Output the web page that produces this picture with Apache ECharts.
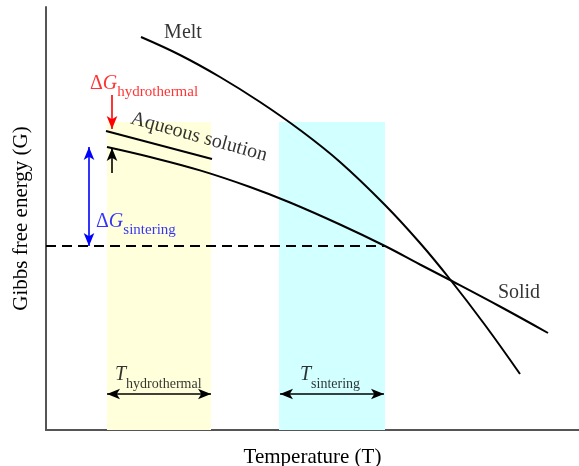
<!DOCTYPE html>
<html><head><meta charset="utf-8">
<script src="https://cdn.jsdelivr.net/npm/echarts@6/dist/echarts.min.js"></script>
<style>html,body{margin:0;padding:0;background:#fff}#c{width:579px;height:466px}</style>
</head><body><div id="c"></div>
<script>
// Schematic units (T to the right, G upward)
const meltT   = [95, 134, 174, 214, 254, 294, 339, 374, 403, 439, 474];
const meltG   = [393, 375, 353, 328, 300, 268, 225, 187, 152, 105, 56];
const solidT  = [61, 104, 154, 204, 244, 294, 339, 374, 403, 454, 502];
const solidG  = [283, 273, 259.6, 243, 227.5, 205.5, 184, 165.5, 150.5, 123.5, 97];
const aqueousT = [60, 166];
const aqueousG = [299, 271];
const hydroRange = [61, 165];      // T range of hydrothermal window
const sinterRange = [233, 339];    // T range of sintering window
const windowTop = 308;
const sinterLevel = 184;           // G of solid at sintering temperature
const zip = (a, b) => a.map((v, i) => [v, b[i]]);

const serif = 'Liberation Serif';
const chart = echarts.init(document.getElementById('c'), null, {renderer: 'canvas'});

function arrowSeries(name, color, from, to, both) {
  return {
    type: 'line', name, data: [], silent: true,
    markLine: {
      silent: true, animation: false,
      symbol: [both ? 'arrow' : 'none', 'arrow'],
      symbolSize: [8, 13],
      label: {show: false},
      lineStyle: {color, width: 1.6, type: 'solid'},
      emphasis: {disabled: true},
      data: [[{coord: from}, {coord: to}]]
    }
  };
}

function textItem(pos, formatter, opts) {
  return {value: pos, label: Object.assign({show: true, formatter}, opts)};
}

const richBase = (color, mainSize, subSize) => ({
  d: {fontFamily: serif, fontSize: mainSize, color, lineHeight: 26, verticalAlign: 'top'},
  g: {fontFamily: serif, fontSize: mainSize, fontStyle: 'italic', color, lineHeight: 26, verticalAlign: 'top'},
  s: {fontFamily: serif, fontSize: subSize, color, lineHeight: 14, verticalAlign: 'bottom'}
});

const option = {
  animation: false,
  backgroundColor: '#fff',
  grid: {left: 46, right: 0, top: 7, bottom: 36, containLabel: false, outerBoundsMode: 'none'},
  xAxis: {
    type: 'value', min: 0, max: 533,
    name: 'Temperature (T)', nameLocation: 'middle', nameGap: 17,
    nameTextStyle: {fontFamily: serif, fontSize: 21, color: '#000'},
    axisLine: {show: true, lineStyle: {color: '#555', width: 2}},
    axisTick: {show: false}, axisLabel: {show: false}, splitLine: {show: false}
  },
  yAxis: {
    type: 'value', min: 0, max: 423,
    name: 'Gibbs free energy (G)', nameLocation: 'middle', nameGap: 14,
    nameTextStyle: {fontFamily: serif, fontSize: 21, color: '#000'},
    axisLine: {show: true, lineStyle: {color: '#555', width: 2}},
    axisTick: {show: false}, axisLabel: {show: false}, splitLine: {show: false}
  },
  series: [
    {
      type: 'line', data: [], silent: true,
      markArea: {
        silent: true,
        data: [
          [{coord: [hydroRange[0], 0], itemStyle: {color: '#FFFFDC'}}, {coord: [hydroRange[1], windowTop]}],
          [{coord: [sinterRange[0], 0], itemStyle: {color: '#D2FFFF'}}, {coord: [sinterRange[1], windowTop]}]
        ]
      }
    },
    {
      type: 'line', data: [], silent: true,
      markLine: {
        silent: true, symbol: ['none', 'none'], label: {show: false},
        lineStyle: {color: '#000', width: 2, type: [10, 6]},
        emphasis: {disabled: true},
        data: [[{coord: [0, sinterLevel]}, {coord: [solidT[6], sinterLevel]}]]
      }
    },
    {type: 'line', name: 'Melt', data: zip(meltT, meltG), smooth: 0.4, showSymbol: false, silent: true,
     lineStyle: {color: '#000', width: 2}},
    {type: 'line', name: 'Solid', data: zip(solidT, solidG), smooth: 0.4, showSymbol: false, silent: true,
     lineStyle: {color: '#000', width: 2}},
    {type: 'line', name: 'Aqueous solution', data: zip(aqueousT, aqueousG), showSymbol: false, silent: true,
     lineStyle: {color: '#000', width: 2}},
    arrowSeries('dGh', '#FF0000', [66, 335], [66, 301], false),
    arrowSeries('dGa', '#000', [66, 257], [66, 282], false),
    arrowSeries('dGs', '#0000FF', [43, 283], [43, sinterLevel], true),
    arrowSeries('Th', '#000', [hydroRange[0], 36], [hydroRange[1], 36], true),
    arrowSeries('Ts', '#000', [sinterRange[0] + 1, 36], [sinterRange[1] - 1, 36], true),
    {
      type: 'scatter', symbolSize: 0, silent: true,
      data: [
        textItem([137, 397], 'Melt', {fontFamily: serif, fontSize: 20, color: '#000', position: 'inside'}),
        textItem([473, 137], 'Solid', {fontFamily: serif, fontSize: 20, color: '#000', position: 'inside'}),
        textItem([153, 293], 'Aqueous solution', {fontFamily: serif, fontSize: 20, color: '#000', position: 'inside', rotate: -15.5}),
        textItem([44, 343], '{d|Δ}{g|G}{s|hydrothermal}', {position: 'right', distance: 0, rich: richBase('#FF0000', 20, 15)}),
        textItem([50, 205], '{d|Δ}{g|G}{s|sintering}', {position: 'right', distance: 0, rich: richBase('#0000FF', 20, 15)}),
        textItem([69, 52], '{g|T}{s|hydrothermal}', {position: 'right', distance: 0, rich: richBase('#000', 20, 14)}),
        textItem([254, 52], '{g|T}{s|sintering}', {position: 'right', distance: 0, rich: richBase('#000', 20, 14)})
      ]
    }
  ]
};
chart.setOption(option);
</script></body></html>
